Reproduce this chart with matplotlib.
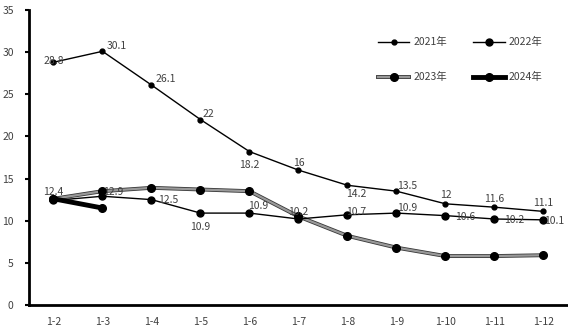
import numpy as np
import matplotlib.pyplot as plt
import matplotlib.patheffects as pe

plt.rcParams['font.family'] = ['Noto Sans CJK SC', 'DejaVu Sans']

months = ['1-2', '1-3', '1-4', '1-5', '1-6', '1-7', '1-8', '1-9', '1-10', '1-11', '1-12']
y2021 = [28.8, 30.1, 26.1, 22, 18.2, 16, 14.2, 13.5, 12, 11.6, 11.1]
y2022 = [12.4, 12.9, 12.5, 10.9, 10.9, 10.2, 10.7, 10.9, 10.6, 10.2, 10.1]
y2023 = [12.6, 13.5, 13.9, 13.7, 13.5, 10.5, 8.2, 6.8, 5.8, 5.8, 5.9]
y2024 = [12.6, 11.5]

# label offsets in points (dx, dy) for each data label
off2021 = [(0, 1), (10, 4), (10, 4), (6, 4), (0, -10), (0, 5), (6, -6), (8, 4), (0, 6), (0, 6), (0, 6)]
off2022 = [(0, 6), (8, 3), (12, 0), (0, -10), (6, 5), (0, 5), (6, 2), (8, 4), (14, -1), (14, -1), (8, -1)]
textColor = '#404040'

fig = plt.figure(figsize=(5.68, 3.34), dpi=100)
ax = fig.add_axes([0.051, 0.087, 0.949, 0.883])
x = np.arange(len(months))

l21, = ax.plot(x, y2021, color='black', lw=1, marker='o', ms=3.5, zorder=3)
l22, = ax.plot(x, y2022, color='black', lw=1, marker='o', ms=5, zorder=3)
# 2023: grey line with a dark outline, plain black markers on top
l23a, = ax.plot(x, y2023, color='#999999', lw=1.6, zorder=2,
                path_effects=[pe.Stroke(linewidth=2.8, foreground='#383838'), pe.Normal()])
l23b, = ax.plot(x, y2023, ls='none', marker='o', ms=5.5, color='black', zorder=2)
l24, = ax.plot(x[:len(y2024)], y2024, color='black', lw=3.5, marker='o', ms=5.5, zorder=4)

for i, v in enumerate(y2021):
    dx, dy = off2021[i]
    ax.annotate(f'{v:g}', (x[i], v), xytext=(dx, dy), textcoords='offset points',
                ha='center', va='center', fontsize=7.5, color=textColor, zorder=5)
for i, v in enumerate(y2022):
    dx, dy = off2022[i]
    ax.annotate(f'{v:g}', (x[i], v), xytext=(dx, dy), textcoords='offset points',
                ha='center', va='center', fontsize=7.5, color=textColor, zorder=5)

ax.set_xlim(-0.5, len(months) - 0.5)
ax.set_ylim(0, 35)
ax.set_yticks(np.arange(0, 36, 5))
ax.set_xticks(x)
ax.set_xticklabels(months)
ax.tick_params(axis='x', length=0, pad=9, labelsize=7.5, labelcolor=textColor)
ax.tick_params(axis='y', length=3, width=1.5, direction='out', pad=8, labelsize=7.5, labelcolor=textColor)

for s in ['top', 'right']:
    ax.spines[s].set_visible(False)
for s in ['left', 'bottom']:
    ax.spines[s].set_linewidth(2)

# two columns filled column-wise, so order handles to read 2021 2022 / 2023 2024 by row
ax.legend([l21, (l23a, l23b), l22, l24], ['2021年', '2023年', '2022年', '2024年'],
          ncol=2, loc='upper right', bbox_to_anchor=(0.97, 0.94), frameon=False,
          fontsize=7.5, labelcolor=textColor, handlelength=3, columnspacing=2.5,
          labelspacing=2.4, handletextpad=0.4)

fig.savefig('out.png', dpi=100)
